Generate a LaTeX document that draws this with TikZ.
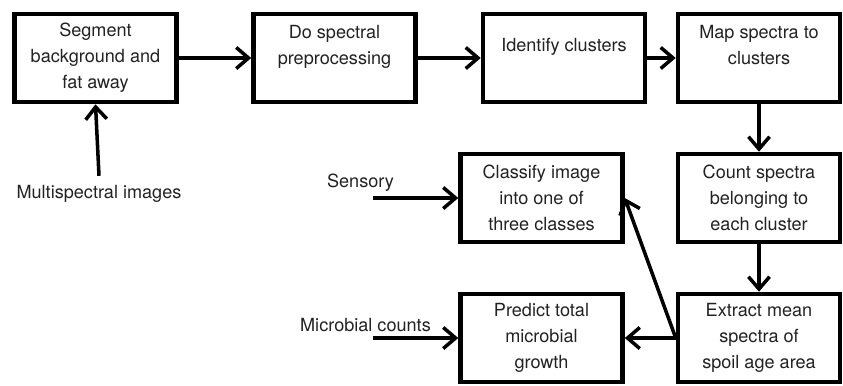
\documentclass[tikz,border=0pt]{standalone}
\usepackage{fontspec}
\setmainfont{TeX Gyre Heros}
\usetikzlibrary{arrows.meta}
\definecolor{ink}{RGB}{34,34,34}
\tikzstyle{process} = [rectangle, minimum width=3.24cm, minimum height=1.76cm, text centered, align=center, draw=black, line width=2.6pt, text=ink]
\tikzstyle{source} = [text=ink, inner sep=5pt]
\tikzstyle{arrow} = [line width=2pt, -{Straight Barb[length=7pt, width=12pt]}, draw=black]

\begin{document}
\begin{tikzpicture}[node distance=2.8cm, font=\fontsize{10.3}{14.8}\selectfont]
        \useasboundingbox (-1.91,1.16) rectangle (14.95,-6.54);

        \node (node0) [process] {Segment\\background and\\fat away};
        \node (node1) [process, right of=node0, xshift=1.98cm] {Do spectral\\preprocessing\\\mbox{}};
        \node (node2) [process, right of=node1, xshift=1.79cm] {Identify clusters\\\mbox{}};
        \node (node3) [process, right of=node2, xshift=1.1cm] {Map spectra to\\clusters\\\mbox{}};

        \node (node4) [process, below of=node3] {Count spectra\\belonging to\\each cluster};
        \node (node5) [process, below of=node4] {Extract mean\\spectra of\\spoil age area};

        \node (node6) [process, left of=node5, xshift=-1.55cm] {Predict total\\microbial\\growth};
        \node (node7) [process, above of=node6] {Classify image\\into one of\\three classes};

        \node (node8) [source, below of=node0, yshift=0.09cm, xshift=0.07cm] {Multispectral images};
        \node (in1) [coordinate, left of=node7, xshift=-0.57cm] {};
        \node (in2) [coordinate, left of=node6, xshift=-0.57cm] {};
        \node (node9) [anchor=south, text=ink, xshift=-0.25cm] at (in1) {Sensory};
        \node (node10) [anchor=south, text=ink, xshift=-0.15cm] at (in2) {Microbial counts};

        \draw [arrow] (node0) -- (node1);
        \draw [arrow] (node1) -- (node2);
        \draw [arrow] (node2) -- (node3);
        \draw [arrow] (node3) -- (node4);
        \draw [arrow] (node4) -- (node5);
        \draw [arrow] (node5.west) -- (node6.east);
        \draw [arrow] (node5.west) -- (node7.east);
        \draw [arrow] (node8.north) -- (node0.south);
        \draw [arrow] (in1) -- (node7.west);
        \draw [arrow] (in2) -- (node6.west);
    \end{tikzpicture}
\end{document}
